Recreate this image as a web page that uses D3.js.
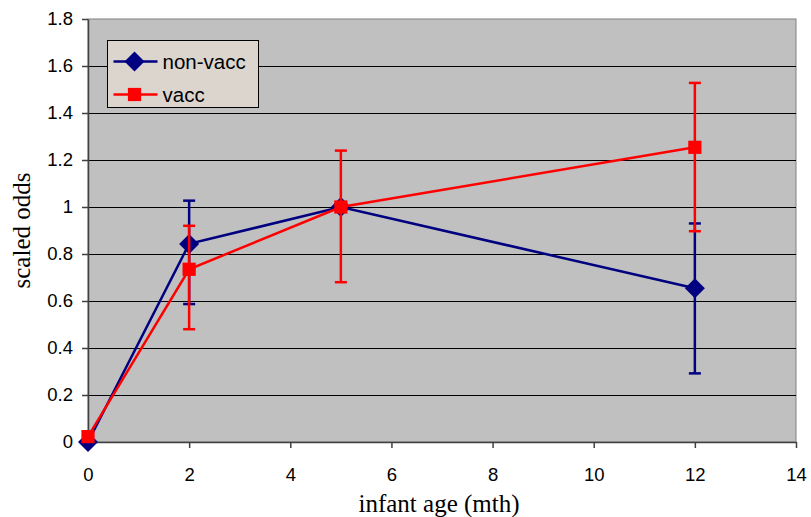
<!DOCTYPE html>
<html lang="en">
<head>
    <meta charset="utf-8">
    <title>Scaled odds by infant age</title>
    <script src="https://d3js.org/d3.v7.min.js"></script>
    <style>
        body { margin: 0; background: #fff; }
        .tick text { font-family: "Liberation Sans", Arial, sans-serif; font-size: 18.5px; fill: #000; }
        .axis-title { font-family: "Liberation Serif", "Times New Roman", serif; font-size: 25px; }
    </style>
</head>
<body>
<script>
    // data
    var ages = [0, 2, 5, 12];
    var nonVacc = [0, 0.843, 1.0, 0.654];
    var nonVaccLow = [0, 0.587, 1.0, 0.292];
    var nonVaccHigh = [0, 1.027, 1.0, 0.93];
    var vacc = [0.023, 0.735, 1.0, 1.254];
    var vaccLow = [0.023, 0.48, 0.68, 0.897];
    var vaccHigh = [0.023, 0.92, 1.24, 1.528];
    var xTicks = [0, 2, 4, 6, 8, 10, 12, 14];
    var yTicks = [0, 0.2, 0.4, 0.6, 0.8, 1, 1.2, 1.4, 1.6, 1.8];

    var margin = {top: 19, right: 15, bottom: 75, left: 88};
    var width = 811, height = 517;
    var w = width - margin.left - margin.right;
    var h = height - margin.top - margin.bottom;

    var svg = d3.select("body").append("svg")
        .attr("width", width)
        .attr("height", height);

    var g = svg.append("g")
        .attr("transform", "translate(" + margin.left + "," + margin.top + ")");

    var x = d3.scaleLinear().domain([0, 14]).range([0, w]);
    var y = d3.scaleLinear().domain([0, 1.8]).range([h, 0]);

    // square diamond (rotated square) like Excel's marker
    var excelDiamond = {
        draw: function (ctx, size) {
            var r = Math.sqrt(size / 2);
            ctx.moveTo(0, -r);
            ctx.lineTo(r, 0);
            ctx.lineTo(0, r);
            ctx.lineTo(-r, 0);
            ctx.closePath();
        }
    };

    // plot area
    g.append("rect")
        .attr("width", w).attr("height", h)
        .attr("fill", "#c0c0c0")
        .attr("stroke", "#808080")
        .attr("stroke-width", 1);

    // gridlines
    g.selectAll("line.grid")
        .data(yTicks.filter(function (d) { return d > 0 && d < 1.8; }))
        .enter().append("line")
        .attr("class", "grid")
        .attr("x1", 0).attr("x2", w)
        .attr("y1", function (d) { return Math.round(y(d)) + 0.5; })
        .attr("y2", function (d) { return Math.round(y(d)) + 0.5; })
        .attr("stroke", "#000")
        .attr("stroke-width", 1);

    // axes
    var xAxis = g.append("g")
        .attr("transform", "translate(0," + h + ")")
        .call(d3.axisBottom(x).tickValues(xTicks).tickSize(6).tickPadding(20).tickSizeOuter(0));
    var yAxis = g.append("g")
        .call(d3.axisLeft(y).tickValues(yTicks).tickSize(6).tickPadding(9)
            .tickFormat(function (d) { return d3.format("")(+d.toFixed(1)); }).tickSizeOuter(0));
    [xAxis, yAxis].forEach(function (a) {
        a.select(".domain").attr("stroke", "#404040").attr("stroke-width", 1.5);
        a.selectAll(".tick line").attr("stroke", "#404040").attr("stroke-width", 1.5);
    });

    // series
    var series = [
        {name: "non-vacc", color: "#000080", vals: nonVacc, lo: nonVaccLow, hi: nonVaccHigh, shape: excelDiamond, size: 200},
        {name: "vacc", color: "#ff0000", vals: vacc, lo: vaccLow, hi: vaccHigh, shape: d3.symbolSquare, size: 175}
    ];

    var line = d3.line()
        .x(function (d) { return x(d[0]); })
        .y(function (d) { return y(d[1]); });

    series.forEach(function (s) {
        var pts = ages.map(function (a, i) { return [a, s.vals[i], s.lo[i], s.hi[i]]; });
        var sg = g.append("g");

        // error bars
        pts.filter(function (d) { return d[3] - d[2] > 0.001; }).forEach(function (d) {
            sg.append("line")
                .attr("x1", x(d[0])).attr("x2", x(d[0]))
                .attr("y1", y(d[2])).attr("y2", y(d[3]))
                .attr("stroke", s.color).attr("stroke-width", 2.5);
            [d[2], d[3]].forEach(function (v) {
                sg.append("line")
                    .attr("x1", x(d[0]) - 6).attr("x2", x(d[0]) + 6)
                    .attr("y1", y(v)).attr("y2", y(v))
                    .attr("stroke", s.color).attr("stroke-width", 2.5);
            });
        });

        sg.append("path")
            .datum(pts)
            .attr("d", line)
            .attr("fill", "none")
            .attr("stroke", s.color)
            .attr("stroke-width", 2.5);

        sg.selectAll("path.marker")
            .data(pts).enter().append("path")
            .attr("class", "marker")
            .attr("transform", function (d) { return "translate(" + x(d[0]) + "," + y(d[1]) + ")"; })
            .attr("d", d3.symbol().type(s.shape).size(s.size))
            .attr("fill", s.color);
    });

    // legend
    var legend = svg.append("g").attr("transform", "translate(107.5,40.5)");
    legend.append("rect")
        .attr("width", 151).attr("height", 67)
        .attr("fill", "#dcd5ce")
        .attr("stroke", "#000").attr("stroke-width", 1);
    series.forEach(function (s, i) {
        var yy = 21 + i * 33;
        legend.append("line")
            .attr("x1", 6).attr("x2", 50).attr("y1", yy).attr("y2", yy)
            .attr("stroke", s.color).attr("stroke-width", 2.5);
        legend.append("path")
            .attr("transform", "translate(27," + yy + ")")
            .attr("d", d3.symbol().type(s.shape).size(s.size))
            .attr("fill", s.color);
        legend.append("text")
            .attr("x", 55).attr("y", yy + 7)
            .style("font-family", "Liberation Sans, Arial, sans-serif")
            .style("font-size", "20.5px")
            .text(s.name);
    });

    // axis titles
    svg.append("text")
        .attr("class", "axis-title")
        .attr("text-anchor", "middle")
        .attr("transform", "translate(30," + (margin.top + h / 2) + ") rotate(-90)")
        .text("scaled odds");
    svg.append("text")
        .attr("class", "axis-title")
        .attr("text-anchor", "middle")
        .attr("x", margin.left + w / 2 - 3)
        .attr("y", 512)
        .text("infant age (mth)");
</script>
</body>
</html>
